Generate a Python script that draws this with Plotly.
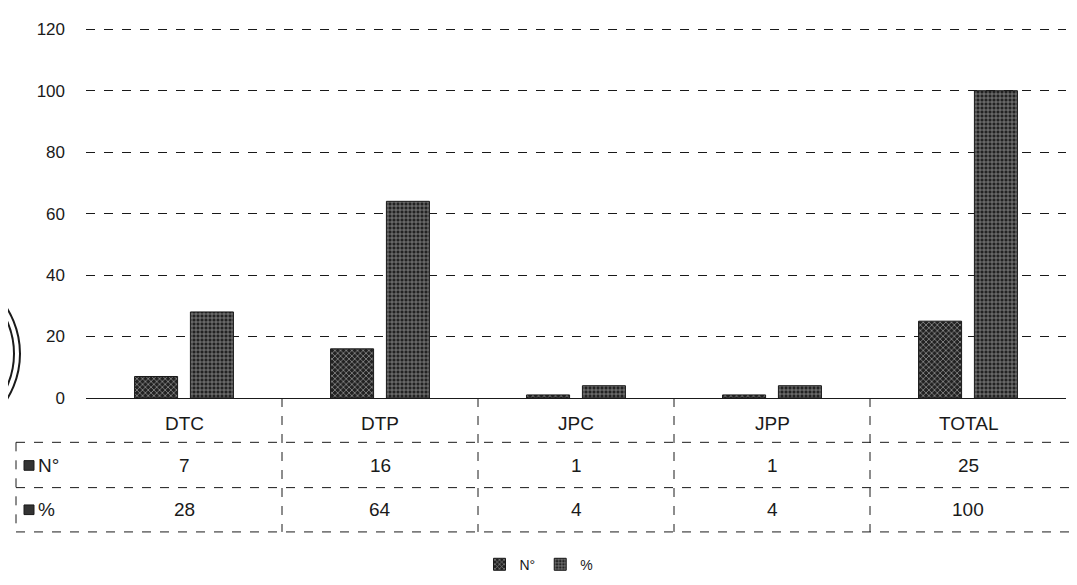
import plotly.graph_objects as go

categories = ["DTC", "DTP", "JPC", "JPP", "TOTAL"]
n_values = [7, 16, 1, 1, 25]
pct_values = [28, 64, 4, 4, 100]
series_names = ["N°", "%"]
y_ticks = [0, 20, 40, 60, 80, 100, 120]

W, H = 1077, 585
L, R, T, B = 78, 1058, 20, 404  # plot area pixel bounds


def px(x):
    return (x - L) / (R - L)


def py(y):
    return (B - y) / (B - T)


FONT = "Liberation Sans"
INK = "#1a1a1a"

fig = go.Figure()
fig.add_trace(go.Bar(
    x=categories, y=n_values, name=series_names[0],
    marker=dict(color="#222", line=dict(color=INK, width=1),
                pattern=dict(shape="x", fgcolor="white", bgcolor="#222", size=4, solidity=0.35)),
))
fig.add_trace(go.Bar(
    x=categories, y=pct_values, name=series_names[1],
    marker=dict(color="#222", line=dict(color=INK, width=1),
                pattern=dict(shape="+", fgcolor="white", bgcolor="#222", size=4, solidity=0.35)),
))

shapes = []
annotations = []
dash = dict(color=INK, width=1, dash="dash")

# table horizontal lines
for yy in [450, 497, 543]:
    shapes.append(dict(type="line", xref="paper", yref="paper",
                       x0=px(8), x1=px(1064), y0=py(yy), y1=py(yy), line=dash))
# left border of table
shapes.append(dict(type="line", xref="paper", yref="paper",
                   x0=px(8), x1=px(8), y0=py(450), y1=py(543), line=dash))
# vertical separators between categories
for i in range(len(categories) - 1):
    shapes.append(dict(type="line", xref="x", yref="paper",
                       x0=i + 0.5, x1=i + 0.5, y0=py(404), y1=py(543), line=dash))

tfont = dict(size=19, color=INK, family=FONT)
# header and values
for i, c in enumerate(categories):
    for txt, yy in ((c, 430), (str(n_values[i]), 474), (str(pct_values[i]), 520)):
        annotations.append(dict(x=c, y=py(yy), xref="x", yref="paper", text=txt,
                                xanchor="center", yanchor="middle",
                                showarrow=False, font=tfont))

# row labels with small keys
for name, yy in zip(series_names, [474, 520]):
    shapes.append(dict(type="rect", xref="paper", yref="paper",
                       x0=px(16), x1=px(26), y0=py(yy + 5), y1=py(yy - 5),
                       fillcolor="#333", line=dict(color=INK, width=1)))
    annotations.append(dict(x=px(28), y=py(yy), xref="paper", yref="paper", text=name,
                            xanchor="left", yanchor="middle", showarrow=False,
                            font=tfont))

# scan artifact: ring at left edge
for r in (92, 86):
    shapes.append(dict(type="circle", xref="paper", yref="paper",
                       x0=px(-80 - r), x1=px(-80 + r), y0=py(358 + r), y1=py(358 - r),
                       line=dict(color=INK, width=2)))

fig.update_layout(
    width=W, height=H,
    margin=dict(l=L, r=W - R, t=T, b=H - B),
    paper_bgcolor="white", plot_bgcolor="white",
    barmode="group", bargap=0.43, bargroupgap=0.23,
    font=dict(family=FONT, color=INK),
    showlegend=True,
    legend=dict(orientation="h", x=px(531), xanchor="center", y=py(577), yanchor="middle",
                font=dict(size=14, family=FONT, color=INK), itemwidth=30,
                bgcolor="rgba(0,0,0,0)"),
    shapes=shapes, annotations=annotations,
)
fig.update_xaxes(showticklabels=False, showgrid=False, zeroline=False,
                 showline=False, ticks="")
fig.update_yaxes(range=[0, 120.4], tickvals=y_ticks, showgrid=True,
                 gridcolor=INK, griddash="dash", gridwidth=1,
                 zeroline=True, zerolinecolor=INK, zerolinewidth=1,
                 showline=False, ticks="", ticklabelstandoff=20,
                 tickfont=dict(size=17, family=FONT, color=INK))

fig.write_html("out.html")
